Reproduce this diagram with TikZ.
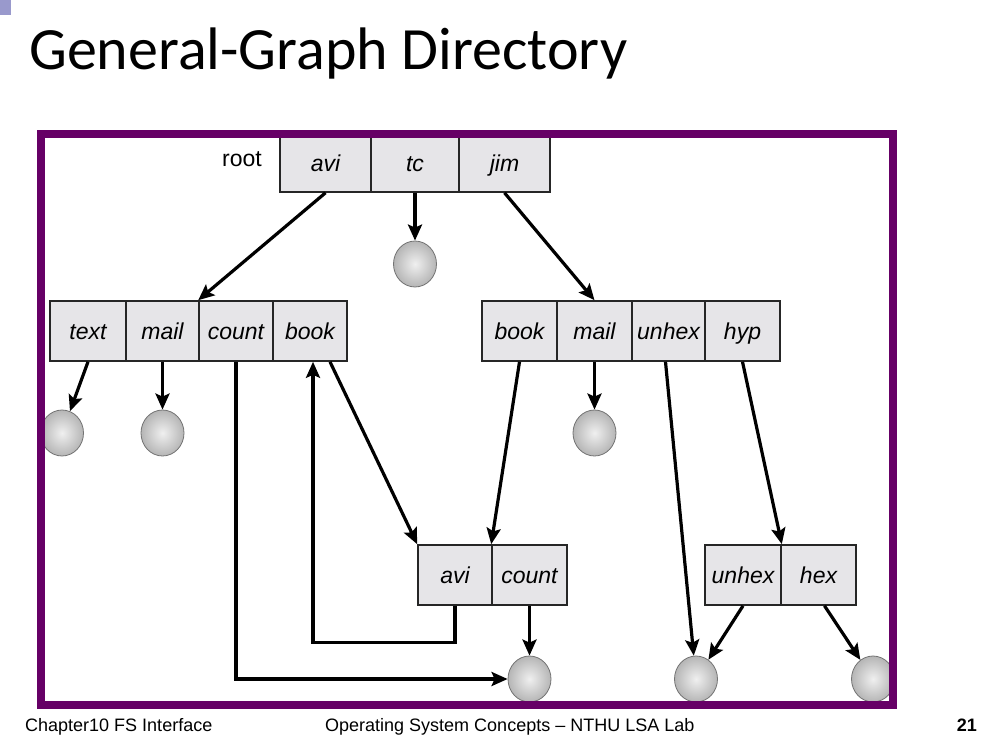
\documentclass[tikz,border=0pt]{standalone}
\usepackage{fontspec}
\setmainfont{Liberation Sans}
\newfontfamily\titlefont{Carlito}
\usetikzlibrary{arrows.meta,shapes.geometric,calc}
\definecolor{framepurple}{HTML}{660066}
\definecolor{cellgray}{HTML}{E6E5E8}
\definecolor{bulletblue}{HTML}{9999CC}

\begin{document}
\begin{tikzpicture}[x=1pt,y=-1pt,
  cell/.style={draw=black!85, line width=1.6pt, fill=cellgray,
    minimum height=60pt, inner sep=0pt, text height=18pt, text depth=2pt,
    font=\fontsize{23}{26}\selectfont\itshape},
  file/.style={ellipse, minimum width=43pt, minimum height=46pt,
    inner sep=0pt, draw=black!55, line width=0.8pt,
    inner color=gray!12, outer color=gray!58},
  link/.style={line width=3.2pt, -{Stealth[length=16pt,width=14pt,inset=3pt]}},
  footer/.style={inner sep=0pt, font=\fontsize{18}{20}\selectfont}]

\useasboundingbox (0,0) rectangle (987,738);
\fill[white] (0,0) rectangle (987,738);

% slide title and bullet mark
\fill[bulletblue] (0,0) rectangle (11,15);
\node[anchor=base west, inner sep=0pt,
  font=\titlefont\fontsize{60}{72}\selectfont] (title) at (29,70)
  {General-Graph Directory};

\begin{scope}
\clip (45,138) rectangle (889,701);

% root directory
\node[cell, minimum width=91pt, minimum height=57pt] (rootavi) at (325.5,163.5) {avi};
\node[cell, minimum width=88pt, minimum height=57pt] (roottc)  at (415,163.5)   {tc};
\node[cell, minimum width=91pt, minimum height=57pt] (rootjim) at (504.5,163.5) {jim};
\node[anchor=base east, inner sep=0pt, font=\fontsize{23}{26}\selectfont]
  (rootlabel) at (262,167) {root};

% avi's directory
\node[cell, minimum width=76pt] (ltext)  at (88,331)    {text};
\node[cell, minimum width=73pt] (lmail)  at (162.5,331) {mail};
\node[cell, minimum width=74pt] (lcount) at (236,331)   {count};
\node[cell, minimum width=74pt] (lbook)  at (310,331)   {book};

% jim's directory
\node[cell, minimum width=75pt] (rbook)  at (519.5,331) {book};
\node[cell, minimum width=75pt] (rmail)  at (594.5,331) {mail};
\node[cell, minimum width=73pt] (runhex) at (668.5,331) {unhex};
\node[cell, minimum width=75pt] (rhyp)   at (742.5,331) {hyp};

% shared sub-directories
\node[cell, minimum width=74pt] (aavi)   at (455,575)   {avi};
\node[cell, minimum width=75pt] (acount) at (529.5,575) {count};
\node[cell, minimum width=76pt] (bunhex) at (743,575)   {unhex};
\node[cell, minimum width=75pt] (bhex)   at (818.5,575) {hex};

% files
\node[file] (ftc)    at (415,264)   {};
\node[file] (ftext)  at (62,433)    {};
\node[file] (fmail)  at (162.5,433) {};
\node[file] (fjmail) at (594.5,433) {};
\node[file] (fcount) at (529.5,679) {};
\node[file] (funhex) at (696,679)   {};
\node[file] (fhex)   at (873,679)   {};

% links
\draw[link] (rootavi.south) -- (lcount.north west);
\draw[link] (roottc.south) -- (ftc);
\draw[link] (rootjim.south) -- (rmail.north);
\draw[link] (ltext.south) -- (ftext);
\draw[link] (lmail.south) -- (fmail);
\draw[link] (lcount.south) |- (fcount);
\draw[link] ([xshift=20pt]lbook.south) -- (aavi.north west);
\draw[link] (aavi.south) -- ++(0,37) -| ([xshift=3pt]lbook.south);
\draw[link] (rbook.south) -- (acount.north west);
\draw[link] (rmail.south) -- (fjmail);
\draw[link] ([xshift=-3pt]runhex.south) -- (funhex);
\draw[link] (rhyp.south) -- (bunhex.north east);
\draw[link] (acount.south) -- (fcount);
\draw[link] (bunhex.south) -- (funhex);
\draw[link] ([xshift=6pt]bhex.south) -- (fhex);
\end{scope}

% purple frame
\draw[framepurple, line width=8pt] (41,134) rectangle (893,705);

% footer
\node[footer, anchor=base west] (chapter) at (25,731) {Chapter10 FS Interface};
\node[footer, anchor=base west] (course) at (325,731) {Operating System Concepts – NTHU LSA Lab};
\node[footer, anchor=base east, font=\fontsize{18}{20}\selectfont\bfseries] (page) at (977,731) {21};
\end{tikzpicture}
\end{document}
